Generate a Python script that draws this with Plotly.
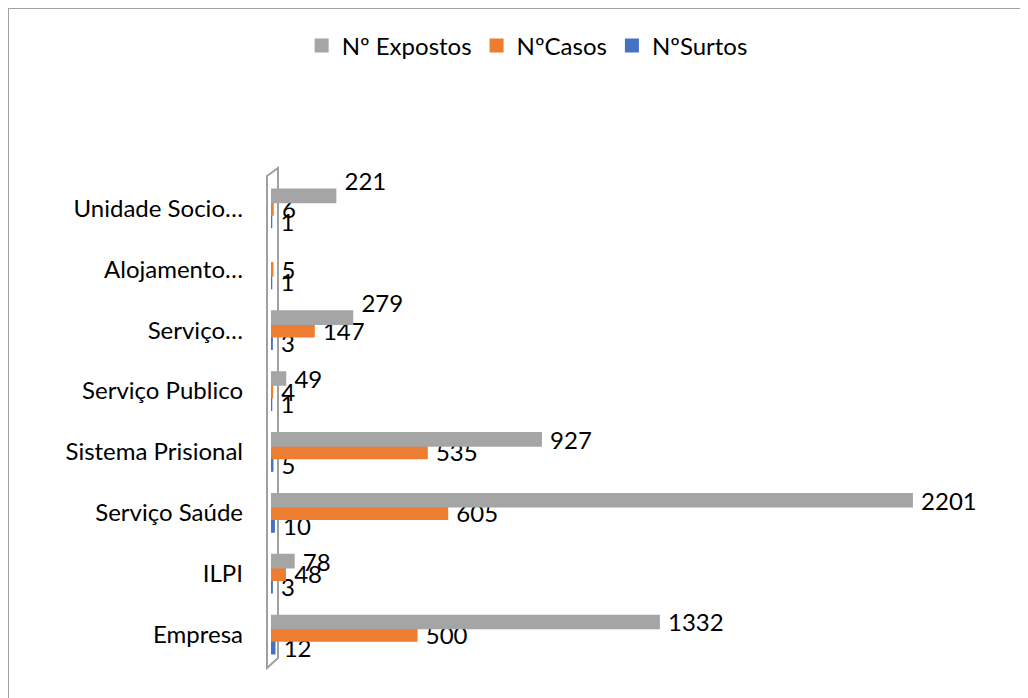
import plotly.graph_objects as go

categories = ["Empresa", "ILPI", "Serviço Saúde", "Sistema Prisional",
              "Serviço Publico", "Serviço…", "Alojamento…", "Unidade Socio…"]
expostos = [1332, 78, 2201, 927, 49, 279, None, 221]
casos = [500, 48, 605, 535, 4, 147, 5, 6]
surtos = [12, 3, 10, 5, 1, 3, 1, 1]
# labels that Excel lifted above their bar to avoid collisions
raised_expostos = {"Serviço…", "Unidade Socio…"}

series = [
    ("NºSurtos", surtos, "#4472C4", set()),
    ("NºCasos", casos, "#ED7D31", set()),
    ("Nº Expostos", expostos, "#A5A5A5", raised_expostos),
]

FONT = "Lato, Open Sans, sans-serif"
FS = 24
fig = go.Figure()
for name, vals, color, raised in series:
    texts = []
    for c, v in zip(categories, vals):
        if v is None:
            texts.append("")
        elif c in raised:
            texts.append("\u00a0" + str(v) + "<br>\u00a0")
        else:
            texts.append("\u00a0" + str(v))
    fig.add_trace(go.Bar(
        y=categories, x=vals, name=name, orientation="h",
        marker=dict(color=color, line=dict(color=color, width=2)),
        text=texts,
        textposition="outside", cliponaxis=False, constraintext="none",
        textfont=dict(size=FS, color="#000000", family=FONT),
    ))

W, H = 1028, 698
ml, mr, mt, mb = 263, 37, 170, 41
pw = W - ml - mr
ph = H - mt - mb


def px(x):
    return (x - ml) / pw


def py(y):
    return (H - mb - y) / ph


# 3D-style wall behind the category axis (figure pixel coords)
wl, wr = 259, 270
wall = (f"M {px(wl)} {py(168)} L {px(wr)} {py(160)} L {px(wr)} {py(650)} "
        f"L {px(wl)} {py(660)} Z")

fig.update_layout(
    width=W, height=H,
    margin=dict(l=ml, r=mr, t=mt, b=mb),
    barmode="group", bargap=0.38, bargroupgap=0,
    plot_bgcolor="white", paper_bgcolor="white",
    font=dict(family=FONT, size=FS, color="#000000"),
    legend=dict(orientation="h", traceorder="reversed",
                xref="container", yref="container",
                x=0.505, xanchor="center", y=1 - 38 / H, yanchor="middle",
                font=dict(size=FS, family=FONT), itemwidth=30),
    xaxis=dict(range=[0, 2500], showgrid=False, zeroline=False,
               showticklabels=False, showline=False),
    yaxis=dict(showgrid=False, zeroline=False, showline=False, ticks="",
               ticklabelstandoff=27, range=[-0.5, 7.5],
               tickfont=dict(size=FS, family=FONT)),
    shapes=[
        dict(type="rect", xref="paper", yref="paper",
             x0=px(0), x1=1.2, y0=-0.2, y1=py(0),
             line=dict(color="#A0A0A0", width=2), layer="below"),
        dict(type="path", xref="paper", yref="paper", path=wall,
             line=dict(color="#A0A0A0", width=2), layer="below"),
    ],
)

fig.write_html("out.html")
